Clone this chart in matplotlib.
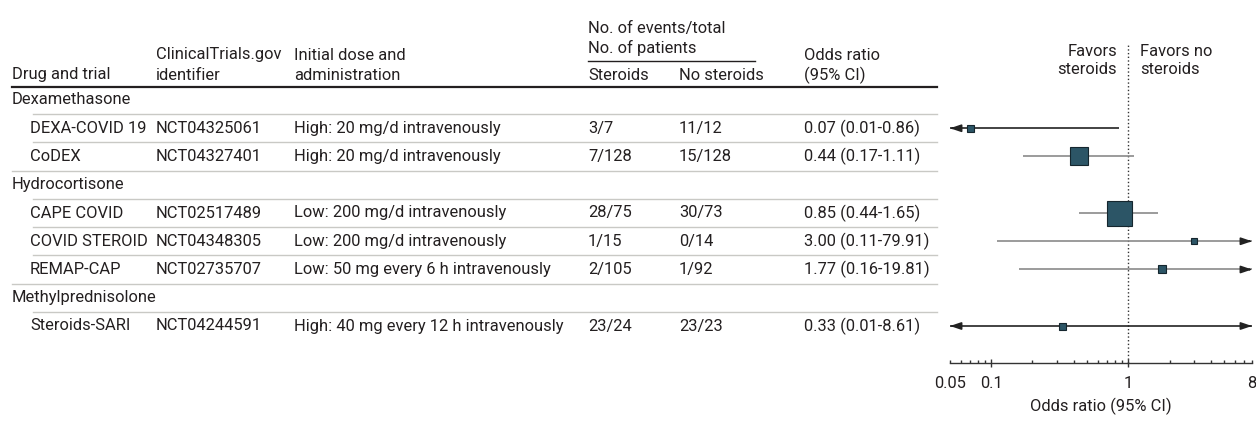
import matplotlib
matplotlib.use('Agg')
import matplotlib.pyplot as plt
from matplotlib.ticker import FixedLocator, FixedFormatter

plt.rcParams['font.family'] = ['Roboto', 'DejaVu Sans']
plt.rcParams['font.size'] = 11.85

# data
drugs = ['Dexamethasone', 'Hydrocortisone', 'Methylprednisolone']
trial_drug = [0, 0, 1, 1, 1, 2]
trials = ['DEXA-COVID 19', 'CoDEX', 'CAPE COVID', 'COVID STEROID', 'REMAP-CAP', 'Steroids-SARI']
nct_ids = ['NCT04325061', 'NCT04327401', 'NCT02517489', 'NCT04348305', 'NCT02735707', 'NCT04244591']
doses = ['High: 20 mg/d intravenously', 'High: 20 mg/d intravenously',
         'Low: 200 mg/d intravenously', 'Low: 200 mg/d intravenously',
         'Low: 50 mg every 6 h intravenously', 'High: 40 mg every 12 h intravenously']
events_steroids = ['3/7', '7/128', '28/75', '1/15', '2/105', '23/24']
events_none = ['11/12', '15/128', '30/73', '0/14', '1/92', '23/23']
odds = [0.07, 0.44, 0.85, 3.00, 1.77, 0.33]
ci_low = [0.01, 0.17, 0.44, 0.11, 0.16, 0.01]
ci_high = [0.86, 1.11, 1.65, 79.91, 19.81, 8.61]
weights = [7, 18, 25, 6, 8, 7]   # box side in px, as drawn

line_cols = ['#222222', '#8a8a8a', '#8a8a8a', '#8a8a8a', '#8a8a8a', '#222222']
TXT = '#231f20'
BOX = '#2c5566'
XMIN, XMAX = 0.05, 8

# build row list: group header rows then trial rows
rows = []
for g, name in enumerate(drugs):
    rows.append(('group', g))
    for i in range(len(trials)):
        if trial_drug[i] == g:
            rows.append(('trial', i))

ROW0, STEP = 100, 28.25
def row_y(k):
    return ROW0 + STEP * k

fig = plt.figure(figsize=(12.56, 4.29), dpi=100)
ax = fig.add_axes([0, 0, 1, 1])
ax.set_xlim(0, 1256)
ax.set_ylim(429, 0)
ax.axis('off')

cols = {'drug': 12, 'trial': 30, 'id': 156, 'dose': 294, 'st': 588, 'no': 679, 'or': 804}

# header
def htxt(x, y, s, **kw):
    ax.text(x, y, s, va='center', ha=kw.pop('ha', 'left'), color=TXT, **kw)

htxt(cols['drug'], 75, 'Drug and trial')
htxt(cols['id'], 55, 'ClinicalTrials.gov')
htxt(cols['id'], 75, 'identifier')
htxt(cols['dose'], 55, 'Initial dose and')
htxt(cols['dose'], 75, 'administration')
htxt(cols['st'], 28, 'No. of events/total')
htxt(cols['st'], 47.5, 'No. of patients')
htxt(cols['st'], 75, 'Steroids')
htxt(cols['no'], 75, 'No steroids')
htxt(cols['or'], 55, 'Odds ratio')
htxt(cols['or'], 75, '(95% CI)')
ax.plot([588, 755], [60.5, 60.5], color=TXT, lw=1)
ax.plot([12, 937], [86.5, 86.5], color=TXT, lw=1.6)

htxt(1117, 51, 'Favors', ha='right')
htxt(1117, 70, 'steroids', ha='right')
htxt(1140, 51, 'Favors no')
htxt(1140, 70, 'steroids')

for k, (kind, idx) in enumerate(rows):
    y = row_y(k)
    if kind == 'group':
        htxt(cols['drug'], y, drugs[idx])
    else:
        htxt(cols['trial'], y, trials[idx])
        htxt(cols['id'], y, nct_ids[idx])
        htxt(cols['dose'], y, doses[idx])
        htxt(cols['st'], y, events_steroids[idx])
        htxt(cols['no'], y, events_none[idx])
        htxt(cols['or'], y, '%.2f (%.2f-%.2f)' % (odds[idx], ci_low[idx], ci_high[idx]))
    if k < len(rows) - 1:
        x0 = 12 if rows[k + 1][0] == 'group' else 33
        ax.plot([x0, 937], [y + STEP / 2, y + STEP / 2], color='#c9c9c5', lw=1)

# forest plot
ax2 = fig.add_axes([950 / 1256, 1 - 363 / 429, 302 / 1256, (363 - 40) / 429])
ax2.set_xscale('log')
ax2.set_xlim(XMIN, XMAX)
ax2.set_ylim(363, 40)
ax2.patch.set_alpha(0)
for s in ['top', 'left', 'right']:
    ax2.spines[s].set_visible(False)
ax2.spines['bottom'].set_color('#333333')
ax2.spines['bottom'].set_linewidth(1)
ax2.set_yticks([])

ax2.plot([1, 1], [363, 45], ls=':', color='#333333', lw=1, zorder=1)

# arrowheads are dark even on grey CI lines
ahead = dict(arrowstyle='-|>,head_length=0.65,head_width=0.22', mutation_scale=10,
             shrinkA=0, shrinkB=0, lw=1.2, color='#222222')
for k, (kind, idx) in enumerate(rows):
    if kind != 'trial':
        continue
    y = row_y(k)
    c = line_cols[idx]
    lo = max(ci_low[idx], XMIN)
    hi = min(ci_high[idx], XMAX)
    ax2.plot([lo, hi], [y, y], color=c, lw=1.2, solid_capstyle='butt', zorder=2)
    if ci_low[idx] < XMIN:
        ax2.annotate('', xy=(XMIN, y), xytext=(XMIN * 1.06, y),
                     arrowprops=ahead, annotation_clip=False)
    if ci_high[idx] > XMAX:
        ax2.annotate('', xy=(XMAX, y), xytext=(XMAX / 1.06, y),
                     arrowprops=ahead, annotation_clip=False)
    ax2.plot(odds[idx], y, marker='s', ms=weights[idx] * 0.72, mfc=BOX,
             mec='#15262e', mew=0.8, zorder=3)

major = [0.1, 1]
minor = [0.05, 0.06, 0.07, 0.08, 0.09, 0.2, 0.3, 0.4, 0.5, 0.6, 0.7, 0.8, 0.9,
         2, 3, 4, 5, 6, 7, 8]
ax2.xaxis.set_major_locator(FixedLocator(major))
ax2.xaxis.set_major_formatter(FixedFormatter(['0.1', '1']))
ax2.xaxis.set_minor_locator(FixedLocator(minor))
ax2.xaxis.set_minor_formatter(FixedFormatter(['0.05' if m == 0.05 else ('8' if m == 8 else '') for m in minor]))
ax2.tick_params(axis='x', which='major', direction='inout', length=5.5, width=1,
                color='#333333', pad=6.3, labelcolor=TXT, labelsize=11.85)
ax2.tick_params(axis='x', which='minor', direction='in', length=2.5, width=1,
                color='#333333', pad=9, labelcolor=TXT, labelsize=11.85)
ax2.set_xlabel('Odds ratio (95% CI)', color=TXT, labelpad=5)

fig.savefig('out.png', dpi=100)
